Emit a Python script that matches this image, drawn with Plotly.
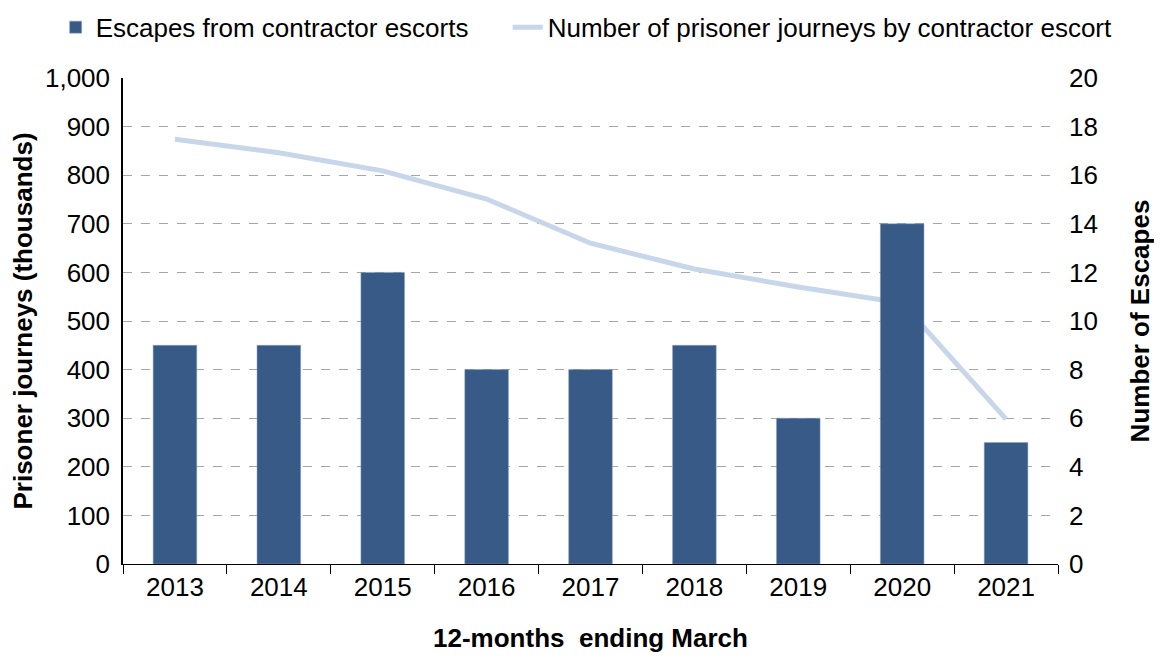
import plotly.graph_objects as go

years = ["2013", "2014", "2015", "2016", "2017", "2018", "2019", "2020", "2021"]
escapes = [9, 9, 12, 8, 8, 9, 6, 14, 5]
journeys = [874, 846, 809, 751, 660, 607, 570, 537, 298]

fig = go.Figure()
fig.add_trace(go.Bar(
    x=years, y=escapes, name="Escapes from contractor escorts",
    marker=dict(color="#375a87", line=dict(color="#8aa0bd", width=0.5)),
    yaxis="y2", legend="legend2",
))
fig.add_trace(go.Scatter(
    x=years, y=journeys, name="Number of prisoner journeys by contractor escort",
    mode="lines", line=dict(color="#c7d6e9", width=5), yaxis="y", legend="legend3",
))

font = "Liberation Sans, Arial, sans-serif"
fs = 26
leg_common = dict(orientation="h", xref="container", yref="container",
                  xanchor="left", y=0.971, yanchor="middle", font=dict(size=fs),
                  bgcolor="rgba(0,0,0,0)")
fig.update_layout(
    width=1162, height=664,
    margin=dict(l=115, r=112, t=70, b=108, autoexpand=False),
    plot_bgcolor="white", paper_bgcolor="white",
    font=dict(family=font, size=fs, color="black"),
    bargap=0.58,
    legend2=dict(x=0.041, **leg_common),
    legend3=dict(x=0.43, **leg_common),
    xaxis=dict(
        showline=True, linecolor="black", linewidth=1,
        ticks="outside", tickson="boundaries", ticklen=9, tickcolor="black",
        title=dict(text="<b>12-months  ending March</b>", standoff=27, font=dict(size=fs)),
        tickfont=dict(size=fs),
    ),
    yaxis=dict(
        range=[0, 1000], dtick=100, tickformat=",",
        showline=True, linecolor="black", linewidth=1.5,
        showgrid=True, gridcolor="#a6a6a6", griddash="dash", gridwidth=1,
        zeroline=False,
        title=dict(text="<b>Prisoner journeys (thousands)</b>", standoff=12, font=dict(size=fs)),
        tickfont=dict(size=fs), ticklabelstandoff=6,
    ),
    yaxis2=dict(
        range=[0, 20], dtick=2, overlaying="y", side="right",
        showgrid=False, zeroline=False, showline=False,
        title=dict(text="<b>Number of Escapes</b>", standoff=33, font=dict(size=fs)),
        tickfont=dict(size=fs), ticklabelstandoff=10,
    ),
)
fig.write_html("out.html")
